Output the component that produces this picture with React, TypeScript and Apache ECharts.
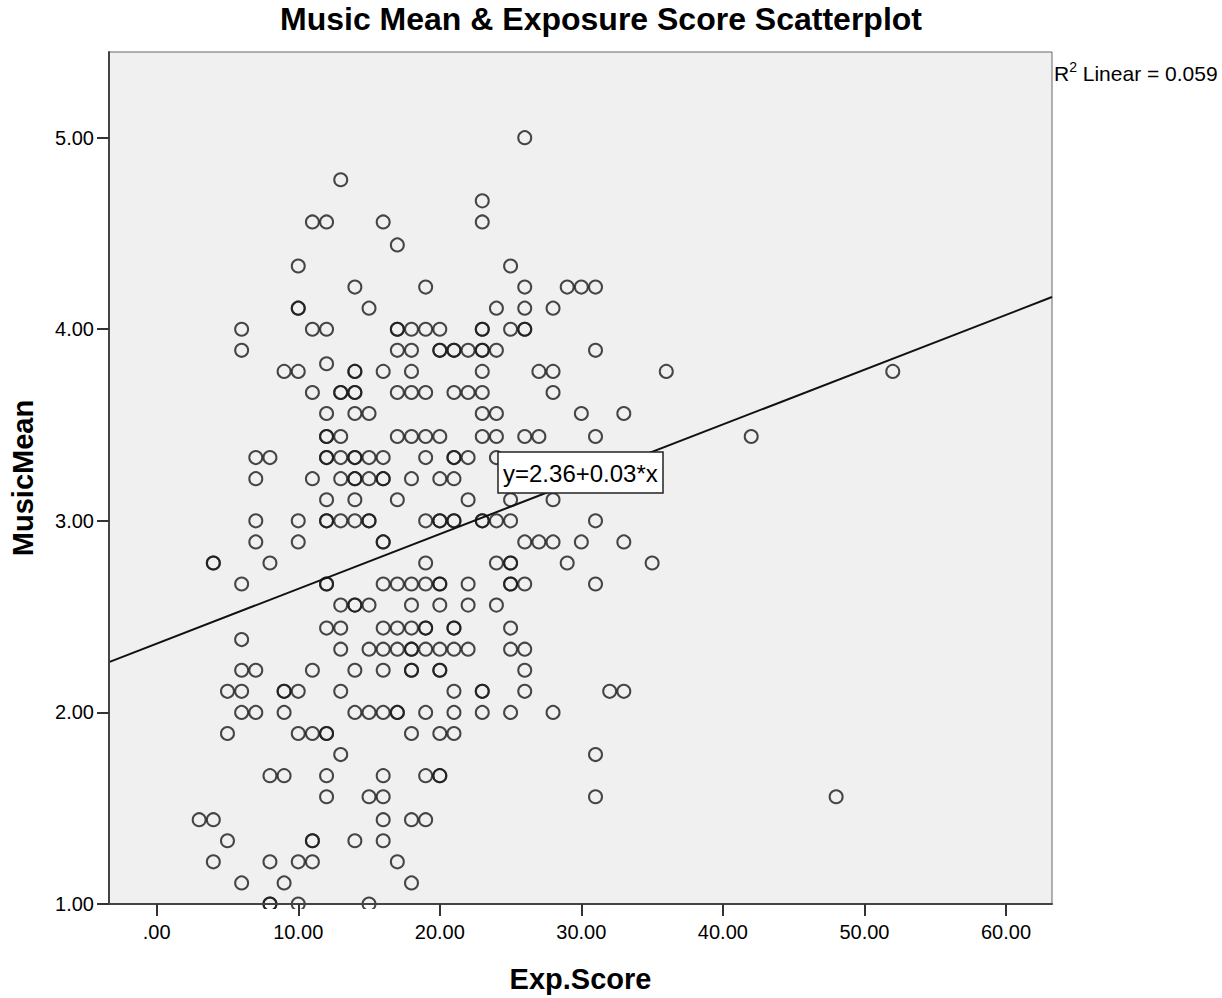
import React, { useEffect, useRef } from "react";
import * as echarts from "echarts";

// ---- Data ----
const musicMeanLevels: number[] = [
  5.0, 4.78, 4.67, 4.56, 4.44, 4.33, 4.22, 4.11, 4.0, 3.89, 3.82, 3.78, 3.67, 3.56, 3.44, 3.33, 3.22,
  3.11, 3.0, 2.89, 2.78, 2.67, 2.56, 2.44, 2.38, 2.33, 2.22, 2.11, 2.0, 1.89, 1.78, 1.67, 1.56, 1.44,
  1.33, 1.22, 1.11, 1.0,
];
const expScoresByLevel: number[][] = [
  [26],
  [13],
  [23],
  [11, 12, 16, 23],
  [17],
  [10, 25],
  [14, 19, 26, 29, 30, 31],
  [10, 10, 15, 24, 26, 28],
  [6, 11, 12, 17, 17, 18, 19, 20, 23, 23, 25, 26, 26],
  [6, 17, 18, 20, 20, 21, 21, 22, 23, 23, 24, 31],
  [12],
  [9, 10, 14, 14, 16, 18, 23, 27, 28, 36, 52],
  [11, 13, 13, 14, 14, 17, 18, 19, 21, 22, 23, 28],
  [12, 14, 15, 23, 24, 30, 33],
  [12, 12, 13, 17, 18, 19, 20, 23, 24, 26, 27, 31, 42],
  [7, 8, 12, 12, 13, 14, 14, 15, 16, 19, 21, 21, 22, 24],
  [7, 11, 13, 14, 14, 15, 16, 16, 18, 20, 21],
  [12, 14, 17, 22, 25, 28],
  [7, 10, 12, 12, 13, 14, 15, 15, 19, 20, 20, 21, 21, 23, 23, 24, 25, 31],
  [7, 10, 16, 16, 26, 27, 28, 30, 33],
  [4, 4, 8, 19, 24, 25, 25, 29, 35],
  [6, 12, 12, 16, 17, 18, 19, 20, 20, 22, 25, 25, 26, 31],
  [13, 14, 14, 15, 18, 20, 22, 24],
  [12, 13, 16, 17, 18, 19, 19, 21, 21, 25],
  [6],
  [13, 15, 16, 17, 18, 18, 19, 20, 21, 22, 25, 26],
  [6, 7, 11, 14, 16, 18, 18, 20, 20, 26],
  [5, 6, 9, 9, 10, 13, 21, 23, 23, 26, 32, 33],
  [6, 7, 9, 14, 15, 16, 17, 17, 19, 21, 23, 25, 28],
  [5, 10, 11, 12, 12, 18, 20, 21],
  [13, 31],
  [8, 9, 12, 16, 19, 20, 20],
  [12, 15, 16, 31, 48],
  [3, 4, 16, 18, 19],
  [5, 11, 11, 14, 16],
  [4, 8, 10, 11, 17],
  [6, 9, 18],
  [8, 8, 10, 15],
];

const fitIntercept = 2.359;
const fitSlope = 0.0286;

const xTickValues = [0, 10, 20, 30, 40, 50, 60];
const yTickValues = [1, 2, 3, 4, 5];
const xRange = [-3.37, 63.25];
const yRange = [1, 5.447];

const titleText = "Music Mean & Exposure Score Scatterplot";
const xAxisName = "Exp.Score";
const yAxisName = "MusicMean";
const equationText = "y=2.36+0.03*x";
const r2Label = "R";
const r2Sup = "2";
const r2Rest = " Linear = 0.059";

const FONT = "'Liberation Sans', Arial, Helvetica, sans-serif";

const fmt = (v: number) => (v === 0 ? ".00" : v.toFixed(2));

export default function App() {
  const ref = useRef<HTMLDivElement>(null);

  useEffect(() => {
    if (!ref.current) return;
    const chart = echarts.init(ref.current, null, { renderer: "svg" });

    const points: number[][] = [];
    musicMeanLevels.forEach((m, i) => {
      expScoresByLevel[i].forEach((x) => points.push([x, m]));
    });
    const fitLine = xRange.map((x) => [x, fitIntercept + fitSlope * x]);

    chart.setOption({
      animation: false,
      backgroundColor: "#ffffff",
      textStyle: { fontFamily: FONT },
      grid: {
        left: 108,
        right: 170,
        top: 52,
        bottom: 90,
        show: true,
        backgroundColor: "#F0F0F0",
        borderColor: "#666",
        borderWidth: 1,
      },
      xAxis: {
        type: "value",
        z: 5,
        min: xRange[0],
        max: xRange[1],
        name: xAxisName,
        nameLocation: "middle",
        nameGap: 60,
        nameTextStyle: { fontFamily: FONT, fontSize: 29, fontWeight: "bold", color: "#000" },
        splitLine: { show: false },
        axisLine: { onZero: false, lineStyle: { color: "#444", width: 2 } },
        axisTick: { customValues: xTickValues, length: 12, lineStyle: { color: "#333", width: 2 } },
        axisLabel: {
          customValues: xTickValues,
          formatter: fmt,
          margin: 18,
          fontFamily: FONT,
          fontSize: 20,
          color: "#000",
        },
      },
      yAxis: {
        type: "value",
        z: 5,
        min: yRange[0],
        max: yRange[1],
        name: yAxisName,
        nameLocation: "middle",
        nameGap: 72,
        nameRotate: 90,
        nameTextStyle: { fontFamily: FONT, fontSize: 29, fontWeight: "bold", color: "#000" },
        splitLine: { show: false },
        axisLine: { onZero: false, lineStyle: { color: "#444", width: 2 } },
        axisTick: { customValues: yTickValues, length: 12, lineStyle: { color: "#333", width: 2 } },
        axisLabel: {
          customValues: yTickValues,
          formatter: fmt,
          margin: 15,
          fontFamily: FONT,
          fontSize: 20,
          color: "#000",
        },
      },
      series: [
        {
          type: "scatter",
          data: points,
          symbol: "circle",
          symbolSize: 13,
          itemStyle: { color: "rgba(0,0,0,0)", borderColor: "#1a1a1a", borderWidth: 2 },
          z: 1,
        },
        {
          type: "line",
          data: fitLine,
          showSymbol: false,
          symbol: "none",
          lineStyle: { color: "#111", width: 2 },
          z: 4,
        },
      ],
      graphic: [
        {
          type: "rect",
          z: 2,
          silent: true,
          shape: { x: 100, y: 909, width: 960, height: 8 },
          style: { fill: "#fff" },
        },
        {
          type: "text",
          x: 601,
          y: 19,
          style: {
            text: titleText,
            font: `bold 32px ${FONT}`,
            fill: "#000",
            textAlign: "center",
            textVerticalAlign: "middle",
          },
        },
        {
          type: "text",
          x: 1054,
          y: 72,
          style: {
            text: `{a|${r2Label}}{s|${r2Sup}}{a|${r2Rest}}`,
            textAlign: "left",
            textVerticalAlign: "middle",
            rich: {
              a: { fontFamily: FONT, fontSize: 21, lineHeight: 24, fill: "#000", verticalAlign: "bottom" },
              s: { fontFamily: FONT, fontSize: 14, lineHeight: 14, fill: "#000", verticalAlign: "top" },
            },
          },
        },
        {
          type: "rect",
          z: 100,
          shape: { x: 498, y: 452, width: 165, height: 41 },
          style: { fill: "#fff", stroke: "#222", lineWidth: 1.5 },
        },
        {
          type: "text",
          z: 101,
          x: 503,
          y: 473,
          style: {
            text: equationText,
            font: `24px ${FONT}`,
            fill: "#000",
            textAlign: "left",
            textVerticalAlign: "middle",
          },
        },
      ],
    });

    return () => chart.dispose();
  }, []);

  return (
    <div
      ref={ref}
      style={{ position: "fixed", left: 0, top: 0, width: 1222, height: 998, background: "#fff" }}
    />
  );
}
